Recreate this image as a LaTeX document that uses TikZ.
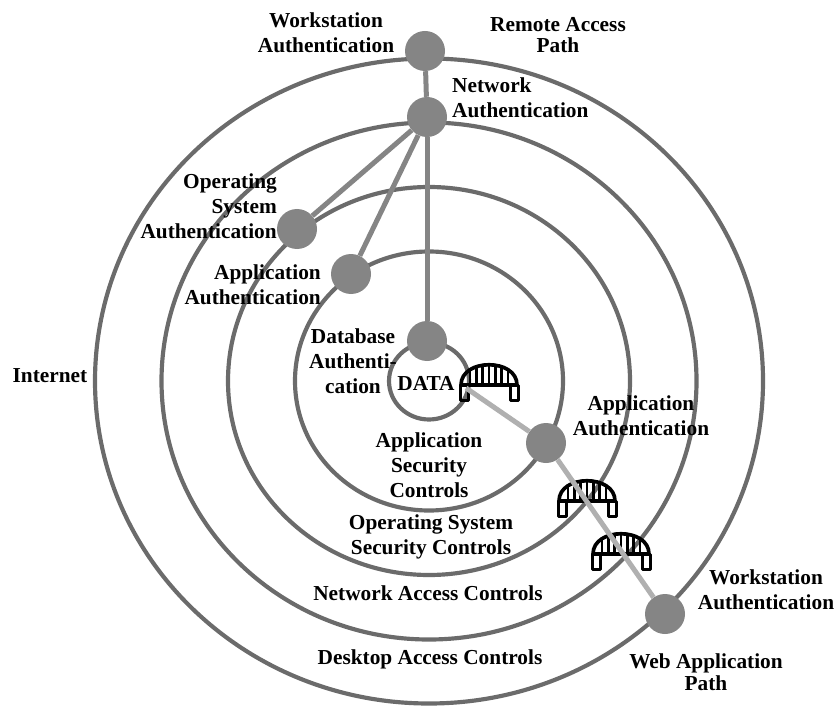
\documentclass[tikz,border=0pt]{standalone}
\usepackage{fontspec}
\setmainfont{Liberation Serif}
\usepackage{tikz}
\definecolor{ringgray}{gray}{0.42}
\definecolor{authgray}{gray}{0.52}
\definecolor{webgray}{gray}{0.69}

\begin{document}
\begin{tikzpicture}[x=0.3mm, y=-0.3mm,
  ring/.style={draw=ringgray, line width=1.25mm},
  auth/.style={circle, fill=authgray, minimum size=12mm, inner sep=0},
  remote/.style={draw=authgray, line width=1.5mm},
  web/.style={draw=webgray, line width=1.5mm},
  span/.style={draw=black, line width=0.9mm, line join=round},
  lbl/.style={font=\bfseries\fontsize{18.2}{21.5}\selectfont, inner sep=0, align=center},
  tight/.style={font=\bfseries\fontsize{18.2}{18.5}\selectfont}]
\useasboundingbox (0,0) rectangle (838,706);
% rings
\foreach \rx/\ry in {334/322.5, 267.5/258.5, 201/194, 134/129.5, 40/38.5}
  \draw[ring] (429,381) ellipse [x radius=\rx, y radius=\ry];

% bridges
\foreach \bx/\by in {489/385, 587/501, 621/554} {
  \draw[span, line width=1.1mm] (\bx-28,\by) .. controls (\bx-28,\by-27) and (\bx+28,\by-27) .. (\bx+28,\by) -- cycle;
  \foreach \k in {-19,-12.6667,...,19}
    \draw[line width=0.75mm] (\bx+\k,\by) -- (\bx+\k,{\by-20*sqrt(1-(\k/28)^2)});
  \draw[span] (\bx-29,\by) rectangle (\bx-21,\by+15);
  \draw[span] (\bx+21,\by) rectangle (\bx+29,\by+15);
}

\node[auth] (wstop) at (425,51) {};
\node[auth] (net) at (427,117) {};
\node[auth] (osauth) at (297,229) {};
\node[auth] (appauth) at (351,274) {};
\node[auth] (dbauth) at (427,341) {};
\node[auth] (appweb) at (546,443) {};
\node[auth] (wsweb) at (665,614) {};
\coordinate (data) at (466,388);

\draw[remote] (wstop) -- (net);
\draw[remote] (net) -- (osauth);
\draw[remote] (net) -- (appauth);
\draw[remote] (net) -- (dbauth);
\draw[web] (data) -- (appweb) -- (wsweb);

% labels
\node[lbl] (wstoplbl) at (326,33) {Workstation\\Authentication};
\node[lbl, tight] (remotelbl) at (558,35) {Remote Access\\Path};
\node[lbl, align=left, anchor=west] (netlbl) at (452,98) {Network\\Authentication};
\node[lbl, align=right, anchor=east] (oslbl) at (277,206) {Operating\\System\\Authentication};
\node[lbl, align=right, anchor=east] (applbl) at (321,285) {Application\\Authentication};
\node[lbl] (dblbl) at (353,361) {Database\\Authenti-\\cation};
\node[lbl] (datalbl) at (426,383) {DATA};
\node[lbl] (appweblbl) at (641,416) {Application\\Authentication};
\node[lbl] (wsweblbl) at (766,590) {Workstation\\Authentication};
\node[lbl, tight] (weblbl) at (706,672) {Web Application\\Path};
\node[lbl] (asclbl) at (429,465) {Application\\Security\\Controls};
\node[lbl] (osclbl) at (431,537) {Operating System\\Security Controls};
\node[lbl] (naclbl) at (428,593) {Network Access Controls};
\node[lbl] (daclbl) at (430,659) {Desktop Access Controls};
\node[lbl] (inetlbl) at (50,376) {Internet};
\end{tikzpicture}
\end{document}
